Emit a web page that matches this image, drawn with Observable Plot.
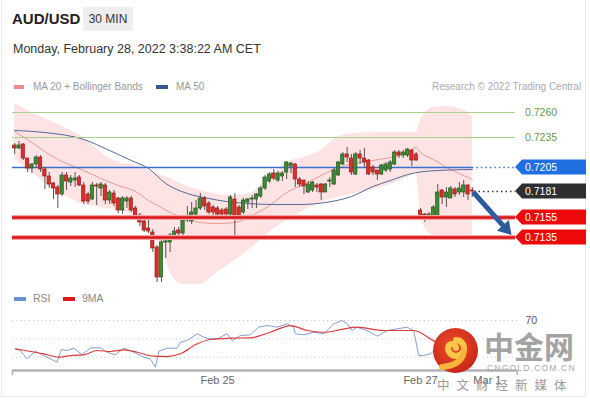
<!DOCTYPE html>
<html><head><meta charset="utf-8">
<script src="https://cdn.jsdelivr.net/npm/d3@7"></script>
<script src="https://cdn.jsdelivr.net/npm/@observablehq/plot@0.6"></script>
<style>
body{margin:0;background:#fff;font-family:"Liberation Sans",Arial,sans-serif;}
#wrap{position:relative;width:590px;height:400px;overflow:hidden;background:#fff;}
.abs{position:absolute;white-space:nowrap;}
.sw{position:absolute;height:4px;}
svg{display:block;}
</style></head><body><div id="wrap">
<div class="abs" style="left:1px;top:0;width:583px;height:396px;border:1px solid #e8e8e8;border-top:none;"></div>
<div class="abs" style="left:12px;top:10px;font-size:15px;font-weight:bold;color:#222;line-height:18px;">AUD/USD</div>
<div class="abs" style="left:83px;top:7px;width:50px;height:24px;background:#eeeeee;"></div>
<div class="abs" style="left:83px;top:7px;width:50px;height:24px;line-height:24px;text-align:center;font-size:12px;color:#333;">30 MIN</div>
<div class="abs" style="left:13px;top:41px;font-size:12.5px;color:#333;line-height:16px;">Monday, February 28, 2022 3:38:22 AM CET</div>
<div class="sw" style="left:14px;top:85px;width:10px;background:#f08a86;"></div>
<div class="abs" style="left:33px;top:80px;font-size:10px;color:#999;line-height:13px;">MA 20 + Bollinger Bands</div>
<div class="sw" style="left:156px;top:85px;width:12px;background:#345a94;"></div>
<div class="abs" style="left:176px;top:80px;font-size:10px;color:#999;line-height:13px;">MA 50</div>
<div class="abs" style="left:432px;top:80px;font-size:10px;color:#aaa;line-height:13px;">Research © 2022 Trading Central</div>
<div id="main" class="abs" style="left:0;top:95px;"></div>
<div class="sw" style="left:14px;top:297px;width:12px;background:#6b8fd4;"></div>
<div class="abs" style="left:33px;top:292px;font-size:10.5px;color:#888;line-height:13px;">RSI</div>
<div class="sw" style="left:63px;top:297px;width:12px;background:#e0191b;"></div>
<div class="abs" style="left:82px;top:292px;font-size:10.5px;color:#888;line-height:13px;">9MA</div>
<div id="rsi" class="abs" style="left:0;top:310px;"></div>
<svg class="abs" style="left:432px;top:327px;" width="47" height="47" viewBox="0 0 47 47">
<defs><radialGradient id="lg" cx="0.45" cy="0.4" r="0.6"><stop offset="0" stop-color="#f0502a"/><stop offset="1" stop-color="#c8261a"/></radialGradient></defs>
<circle cx="23.5" cy="23.5" r="22.5" fill="url(#lg)"/>
<path d="M24 13 a8 8 0 1 1 -8 8 a4 4 0 0 1 8 0" fill="none" stroke="#f9c846" stroke-width="6" stroke-linecap="round"/>
<path d="M32 23 q-1 15 -22 17" fill="none" stroke="#f6b53b" stroke-width="6" stroke-linecap="round"/>
</svg>
<div class="abs" style="left:484px;top:330px;font-family:'Noto Sans CJK SC',sans-serif;font-weight:bold;font-size:30px;line-height:30px;color:#a3a3a3;">中金网</div>
<div class="abs" style="left:487px;top:364px;font-size:8.5px;letter-spacing:1.2px;color:#a8a8a8;line-height:9px;">CNGOLD.COM.CN</div>
<div class="abs" style="left:437px;top:377px;font-family:'Noto Sans CJK SC',sans-serif;font-size:12.5px;letter-spacing:7px;color:#9a9a9a;line-height:15px;">中文财经新媒体</div>
</div>
<script>
// ---------- data ----------
const candleOpen = [.7227,.7224,.7228,.7214,.7204,.7208,.7215,.7203,.7196,.7189,
.7185,.7178,.7197,.7190,.7192,.7195,.7187,.7178,.7173,.7187,
.7184,.7187,.7172,.7179,.7174,.7162,.7171,.7174,.7164,.7157,
.7151,.7144,.7140,.7125,.7095,.7130,.7130,.7136,.7142,.7139,
.7152,.7151,.7158,.7164,.7174,.7169,.7165,.7164,.7162,.7163,
.7158,.7173,.7165,.7160,.7170,.7173,.7173,.7176,.7184,.7191,
.7199,.7192,.7196,.7200,.7206,.7208,.7193,.7192,.7180,.7182,
.7187,.7188,.7180,.7191,.7188,.7197,.7208,.7218,.7214,.7198,
.7218,.7214,.7212,.7205,.7202,.7198,.7202,.7203,.7208,.7220,
.7217,.7217,.7222,.7218,.7162,.7158,.7154,.7155,.7155,.7182,
.7175,.7174,.7183,.7180,.7180,.7187,.7182];
const candleHigh = [.7229,.7231,.7229,.7214,.7209,.7217,.7217,.7205,.7200,.7190,
.7187,.7200,.7200,.7197,.7200,.7197,.7190,.7180,.7190,.7189,
.7190,.7189,.7182,.7182,.7175,.7176,.7176,.7176,.7166,.7159,
.7157,.7157,.7143,.7127,.7132,.7134,.7139,.7145,.7145,.7154,
.7166,.7170,.7172,.7179,.7176,.7171,.7167,.7166,.7164,.7165,
.7177,.7179,.7167,.7174,.7174,.7177,.7179,.7186,.7197,.7200,
.7203,.7201,.7201,.7211,.7210,.7209,.7195,.7192,.7191,.7191,
.7189,.7189,.7189,.7195,.7204,.7211,.7220,.7225,.7218,.7220,
.7222,.7224,.7213,.7207,.7202,.7208,.7210,.7212,.7222,.7222,
.7222,.7224,.7223,.7220,.7164,.7159,.7160,.7167,.7188,.7183,
.7185,.7186,.7185,.7190,.7192,.7188,.7185];
const candleLow = [.7218,.7223,.7212,.7200,.7199,.7204,.7200,.7183,.7184,.7173,
.7164,.7176,.7182,.7186,.7185,.7186,.7168,.7168,.7172,.7167,
.7176,.7168,.7168,.7166,.7159,.7158,.7164,.7160,.7153,.7146,
.7140,.7139,.7120,.7090,.7090,.7114,.7120,.7133,.7133,.7135,
.7150,.7148,.7153,.7162,.7162,.7158,.7157,.7156,.7156,.7156,
.7157,.7137,.7152,.7158,.7163,.7164,.7164,.7174,.7182,.7189,
.7192,.7190,.7191,.7193,.7199,.7185,.7185,.7178,.7179,.7180,
.7180,.7172,.7180,.7185,.7187,.7196,.7207,.7210,.7197,.7197,
.7208,.7205,.7197,.7197,.7192,.7197,.7200,.7200,.7207,.7214,
.7214,.7215,.7206,.7211,.7152,.7150,.7153,.7153,.7153,.7168,
.7165,.7174,.7175,.7177,.7175,.7172,.7175];
const candleClose = [.7224,.7227,.7214,.7204,.7208,.7215,.7203,.7196,.7188,.7184,
.7178,.7197,.7191,.7194,.7194,.7187,.7171,.7171,.7187,.7186,
.7188,.7172,.7180,.7169,.7162,.7174,.7174,.7162,.7155,.7150,
.7142,.7141,.7124,.7095,.7130,.7131,.7137,.7141,.7139,.7152,
.7154,.7160,.7164,.7174,.7166,.7160,.7160,.7158,.7158,.7158,
.7175,.7156,.7155,.7172,.7173,.7174,.7178,.7184,.7195,.7198,
.7194,.7199,.7199,.7210,.7209,.7193,.7188,.7186,.7188,.7190,
.7185,.7180,.7188,.7192,.7202,.7210,.7218,.7215,.7200,.7218,
.7214,.7210,.7198,.7200,.7198,.7207,.7208,.7210,.7220,.7217,
.7220,.7223,.7212,.7212,.7154,.7154,.7158,.7165,.7180,.7175,
.7180,.7184,.7178,.7184,.7187,.7178,.7181];

const bandIdx   = [0,4,8,12,16,20,24,28,31,34,36,39,43,47,51,55,59,63,67,71,75,79,83,87,91,93,94,95,97,100,103,106];
const bandUpper = [.7269,.7260,.7252,.7244,.7235,.7220,.7210,.7207,.7202,.7197,.7194,.7188,.7182,.7178,.7177,.7180,.7195,.7210,.7215,.7222,.7236,.7239,.7240,.7240,.7240,.7240,.7252,.7260,.7265,.7266,.7264,.7256];
const bandLower = [.7213,.7200,.7186,.7176,.7168,.7165,.7162,.7155,.7142,.7125,.7100,.7088,.7088,.7100,.7112,.7125,.7140,.7152,.7162,.7170,.7175,.7179,.7183,.7188,.7195,.7200,.7160,.7145,.7137,.7134,.7134,.7138];
const ma20      = [.7241,.7230,.7218,.7209,.7202,.7194,.7187,.7181,.7172,.7165,.7160,.7155,.7150,.7149,.7150,.7157,.7167,.7180,.7188,.7197,.7205,.7209,.7212,.7215,.7220,.7225,.7220,.7217,.7213,.7205,.7199,.7193];
const ma50Idx   = [0,7,16,22,27,31,35,40,45,49,54,60,66,72,78,83,87,92,98,106];
const ma50      = [.7242,.7240,.7233,.7222,.7212,.7204,.7189,.7179,.7174,.7171,.7169,.7168,.7168,.7170,.7176,.7186,.7192,.7199,.7202,.7203];

const levelPrices = [0.7260, 0.7235, 0.7205, 0.7181, 0.7155, 0.7135];
const levelLabels = ["0.7260", "0.7235", "0.7205", "0.7181", "0.7155", "0.7135"];
const levelKinds  = ["target", "target", "ma", "last", "support", "support"];
const arrowFrom = [106.3, 0.7180];
const arrowTo   = [115.2, 0.7137];

const rsiIdx = [0.2,1.3,2.9,4.8,6.7,8.3,9.8,10.8,12.2,13.7,15.6,17.6,19.9,21.4,23.3,25.3,27.6,29.9,31.4,32.6,33.4,35.3,37.6,38.4,39.9,42.3,43.8,45.3,46.9,49.2,50.4,52.3,54.6,56.5,58.5,60.8,63.1,64.6,65.0,67.0,69.3,71.6,73.9,75.8,77.0,78.2,79.3,81.6,84.0,86.3,88.6,90.9,92.4,93.6,94.7,96.3,98.6,100.9,103.2,105.5];
const rsiVal = [39.1,37.3,28.2,36.5,31.8,28.2,24.5,38.4,37.3,39.8,32.6,40.2,40.2,35.4,32.6,39.8,35.4,30.0,28.2,19.1,36.5,39.8,39.8,46.3,48.2,55.5,51.8,50.0,50.0,55.5,48.2,53.6,54.4,62.7,64.5,62.7,66.4,62.7,55.5,54.4,57.2,55.5,66.4,70.0,66.4,59.1,62.7,59.1,52.9,59.1,60.9,62.7,59.1,31.8,31.8,33.7,42.7,46.0,45.0,40.5];
const rsiMaIdx = [0.2,3.7,6.7,10.2,12.9,16.0,19.1,22.2,25.3,28.4,32.2,35.3,38.4,42.3,45.3,50.0,54.6,59.2,63.9,67.7,71.6,75.5,79.3,85.5,92.4,97.8,102.1,105.5];
const rsiMaVal = [39.1,36.2,33.7,30.0,31.8,32.6,37.3,36.2,38.0,35.4,31.1,30.7,33.7,44.6,49.3,50.7,51.1,57.2,64.5,59.1,57.2,60.0,62.7,59.1,59.1,46.3,42.7,41.6];
const rsiGrid = [30, 50, 70];
const rsiLabels = [70];
const tickIdx = [47, 94, 109.5];
const tickLabels = ["Feb 25", "Feb 27", "Mar 1"];

// ---------- layout config ----------
const W = 590, ML = 12, MR = 75;
const xDomain = [-0.5, 116];
const xEnd = 116, xAxisEnd = 116.4, xStart = -0.5;
const font = "Liberation Sans, Arial, sans-serif";

const candles = candleOpen.map((o, i) => ({i, o, h: candleHigh[i], l: candleLow[i], c: candleClose[i]}));
const bands = bandIdx.map((i, k) => ({i, u: bandUpper[k], l: bandLower[k], m: ma20[k]}));
const ma50Data = ma50Idx.map((i, k) => ({i, v: ma50[k]}));
const lastIdx = candles.length - 1;
const UP = "#3f8a34", UPS = "#24561c", DN = "#d8302b", DNS = "#9b1b17";

function tagMark(index, scales, values, dims) {
  const g = d3.create("svg:g").attr("font-family", font).attr("text-anchor", "start");
  const xr = dims.width - dims.marginRight;
  levelPrices.forEach((p, k) => {
    const y = scales.y(p), kind = levelKinds[k];
    if (kind === "target") {
      g.append("text").attr("x", xr + 10).attr("y", y).attr("dy", "0.36em").attr("text-anchor", "start")
        .attr("font-size", 10.5).attr("fill", "#6a9a3a").text(levelLabels[k]);
    } else {
      const col = kind === "ma" ? "#1f6fe0" : kind === "last" ? "#2f2f2f" : "#ee0a0a";
      g.append("path").attr("d", `M${xr},${y}L${xr + 7},${y - 7.5}H${W - 4}V${y + 7.5}H${xr + 7}Z`).attr("fill", col);
      g.append("text").attr("x", xr + 10).attr("y", y).attr("dy", "0.36em").attr("text-anchor", "start")
        .attr("font-size", 10.5).attr("fill", "#fff").text(levelLabels[k]);
    }
  });
  return g.node();
}
function arrowMark(index, scales) {
  const x1 = scales.x(arrowFrom[0]), y1 = scales.y(arrowFrom[1]);
  const x2 = scales.x(arrowTo[0]), y2 = scales.y(arrowTo[1]);
  const a = Math.atan2(y2 - y1, x2 - x1), hl = 13, hw = 8;
  const bx = x2 - hl * Math.cos(a), by = y2 - hl * Math.sin(a);
  const g = d3.create("svg:g");
  g.append("line").attr("x1", x1).attr("y1", y1).attr("x2", bx + Math.cos(a)).attr("y2", by + Math.sin(a))
    .attr("stroke", "#2d5b9b").attr("stroke-width", 5);
  g.append("path").attr("d", `M${x2},${y2}L${bx - hw * Math.sin(a)},${by + hw * Math.cos(a)}L${bx + hw * Math.sin(a)},${by - hw * Math.cos(a)}Z`)
    .attr("fill", "#2d5b9b");
  return g.node();
}

const main = Plot.plot({
  width: W, height: 195, marginLeft: ML, marginRight: MR, marginTop: 0, marginBottom: 0,
  x: {domain: xDomain, axis: null},
  y: {domain: [0.7082, 0.7277], axis: null},
  color: {type: "identity"},
  style: {fontFamily: font, background: "transparent", overflow: "visible"},
  marks: [
    Plot.areaY(bands, {x: "i", y1: "l", y2: "u", fill: "#fde3e3", curve: "monotone-x"}),
    Plot.line(bands, {x: "i", y: "m", stroke: "#ea9a95", strokeWidth: 1, curve: "monotone-x"}),
    Plot.line(ma50Data, {x: "i", y: "v", stroke: "#55689c", strokeWidth: 1, curve: "monotone-x"}),
    Plot.ruleY(levelPrices.filter((p, k) => levelKinds[k] === "target"), {x1: xStart, x2: xEnd, stroke: "#a9cf8c", strokeWidth: 1}),
    Plot.ruleY(levelPrices.filter((p, k) => levelKinds[k] === "ma"), {x1: xStart, x2: lastIdx, stroke: "#3a6fd0", strokeWidth: 1.5}),
    Plot.ruleY(levelPrices.filter((p, k) => levelKinds[k] === "ma"), {x1: lastIdx, x2: xEnd, stroke: "#3a6fd0", strokeWidth: 1.5, strokeDasharray: "1.5,3"}),
    Plot.ruleY(levelPrices.filter((p, k) => levelKinds[k] === "last"), {x1: lastIdx + 0.5, x2: xEnd, stroke: "#333", strokeWidth: 1.5, strokeDasharray: "1.5,3"}),
    Plot.ruleX(candles, {x: "i", y1: "l", y2: "h", stroke: "#555", strokeWidth: 1}),
    Plot.rect(candles, {x1: d => d.i - 0.38, x2: d => d.i + 0.38, y1: "o", y2: "c",
      fill: d => d.c >= d.o ? UP : DN, stroke: d => d.c >= d.o ? UPS : DNS, strokeWidth: 0.7}),
    Plot.ruleY(levelPrices.filter((p, k) => levelKinds[k] === "support"), {x1: xStart, x2: xEnd, stroke: "#f5a3a3", strokeWidth: 5}),
    Plot.ruleY(levelPrices.filter((p, k) => levelKinds[k] === "support"), {x1: xStart, x2: xEnd, stroke: "#d81414", strokeWidth: 2.5}),
    arrowMark,
    tagMark
  ]
});
document.getElementById("main").appendChild(main);

const rsiData = rsiIdx.map((i, k) => ({i, v: rsiVal[k]}));
const rsiMaData = rsiMaIdx.map((i, k) => ({i, v: rsiMaVal[k]}));
const ticks = tickIdx.map((i, k) => ({i, l: tickLabels[k]}));
const rsiBottom = 15.5;
const rsi = Plot.plot({
  width: W, height: 85, marginLeft: ML, marginRight: MR, marginTop: 0, marginBottom: 25,
  x: {domain: xDomain, axis: null},
  y: {domain: [rsiBottom, 80.9], axis: null},
  style: {fontFamily: font, background: "transparent", overflow: "visible"},
  marks: [
    Plot.ruleY(rsiGrid, {x1: xStart, x2: xAxisEnd, stroke: "#c4c4c4", strokeDasharray: "1.2,3"}),
    Plot.line(rsiData, {x: "i", y: "v", stroke: "#809fd4", strokeWidth: 1}),
    Plot.line(rsiMaData, {x: "i", y: "v", stroke: "#dc3b3b", strokeWidth: 1.2, curve: "monotone-x"}),
    Plot.ruleY([rsiBottom], {x1: xStart, x2: xAxisEnd, stroke: "#b3b3b3", strokeWidth: 2.5}),
    Plot.ruleX([xStart, xAxisEnd], {y1: rsiBottom, y2: 10, stroke: "#b3b3b3", strokeWidth: 1.5}),
    Plot.text(ticks, {x: "i", text: "l", frameAnchor: "bottom", dy: 13, fill: "#666", fontSize: 11}),
    Plot.text(rsiLabels, {x: xAxisEnd, y: d => d, text: d => String(d), dx: 14, fill: "#555", fontSize: 10.5})
  ]
});
document.getElementById("rsi").appendChild(rsi);
</script>
</body></html>
